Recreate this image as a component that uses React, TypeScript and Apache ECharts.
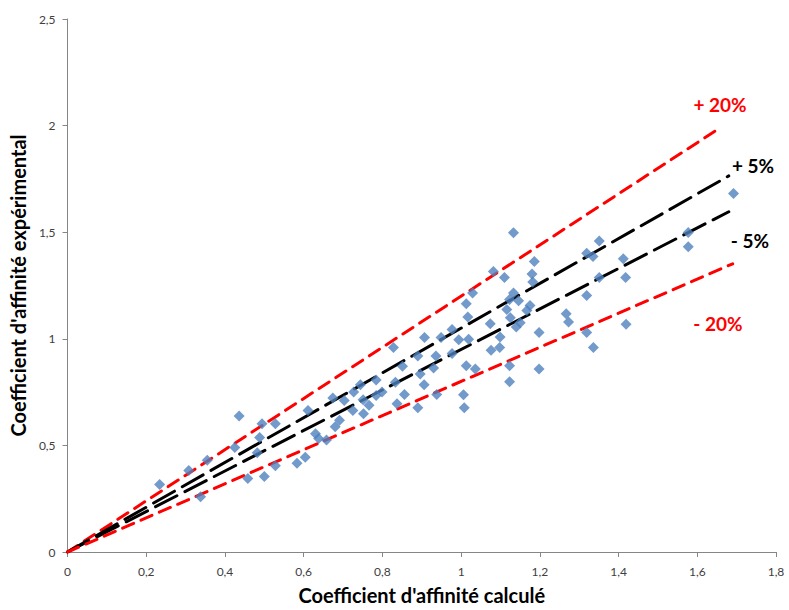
import React, { useEffect, useRef } from "react";
import * as echarts from "echarts";

// Calculated affinity coefficient (x) and experimental affinity coefficient (y)
const calcValues = [
  0.234, 0.308, 0.355, 0.338, 0.436, 0.425, 0.482, 0.488, 0.494, 0.528,
  0.458, 0.5, 0.528, 0.583, 0.604, 0.611, 0.63, 0.638, 0.658, 0.674,
  0.68, 0.691, 0.703, 0.725, 0.727, 0.744, 0.751, 0.752, 0.766, 0.784,
  0.784, 0.799, 0.828, 0.833, 0.837, 0.851, 1.029, 1.013, 1.017, 1.074,
  0.907, 0.949, 0.977, 0.994, 1.019, 1.099, 1.076, 1.098, 0.89, 0.936,
  0.977, 0.93, 0.896, 0.906, 1.013, 1.036, 0.856, 0.89, 0.938, 1.006,
  1.008, 1.133, 1.186, 1.082, 1.11, 1.18, 1.182, 1.133, 1.123, 1.146,
  1.116, 1.175, 1.167, 1.125, 1.15, 1.14, 1.267, 1.273, 1.198, 1.123,
  1.198, 1.123, 1.351, 1.319, 1.335, 1.412, 1.418, 1.351, 1.319, 1.319,
  1.419, 1.336, 1.692, 1.577, 1.577,
];
const expValues = [
  0.317, 0.382, 0.43, 0.259, 0.638, 0.49, 0.466, 0.537, 0.602, 0.602,
  0.345, 0.354, 0.404, 0.416, 0.444, 0.664, 0.555, 0.532, 0.525, 0.722,
  0.587, 0.618, 0.711, 0.664, 0.75, 0.784, 0.714, 0.649, 0.688, 0.807,
  0.734, 0.75, 0.959, 0.796, 0.695, 0.871, 1.215, 1.164, 1.102, 1.071,
  1.006, 1.006, 1.044, 0.995, 0.998, 1.009, 0.946, 0.959, 0.919, 0.919,
  0.931, 0.863, 0.835, 0.785, 0.874, 0.858, 0.739, 0.677, 0.739, 0.737,
  0.677, 1.498, 1.363, 1.316, 1.288, 1.304, 1.266, 1.215, 1.184, 1.179,
  1.137, 1.156, 1.133, 1.099, 1.075, 1.055, 1.117, 1.079, 1.029, 0.874,
  0.858, 0.799, 1.459, 1.401, 1.386, 1.375, 1.288, 1.288, 1.203, 1.029,
  1.068, 0.959, 1.681, 1.499, 1.432,
];

// Reference lines y = slope * x (±20 %, ±5 %)
const refNames = ["+ 20%", "+ 5%", "- 5%", "- 20%"];
const refSlopes = [1.2, 1.05, 0.95, 0.8];
const refEnds = [1.66, 1.68, 1.68, 1.69];

const xTitle = "Coefficient d'affinité calculé";
const yTitle = "Coefficient d'affinité expérimental";

const FONT = "Lato, 'Liberation Sans', sans-serif";
const refColors = ["#FF0000", "#000000", "#000000", "#FF0000"];
const refDashes = [[12, 8], [24, 9], [24, 9], [12, 8]];
const labelPos = [
  [720, 104],
  [753, 165],
  [750, 240],
  [718, 323],
];

const fmt = (v: number) => String(Math.round(v * 10) / 10).replace(".", ",");

export default function App() {
  const ref = useRef<HTMLDivElement>(null);
  useEffect(() => {
    document.body.style.margin = "0";
    if (!ref.current) return;
    const chart = echarts.init(ref.current, undefined, { renderer: "svg" });
    const points = calcValues.map((x, i) => [x, expValues[i]]);
    const lineSeries = refSlopes.map((s, i) => ({
      type: "line",
      name: refNames[i],
      data: [
        [0, 0],
        [refEnds[i], s * refEnds[i]],
      ],
      showSymbol: false,
      symbol: "none",
      silent: true,
      z: 2,
      lineStyle: { color: refColors[i], width: 3, type: refDashes[i], cap: "round" },
    }));
    const axisCommon = {
      type: "value",
      splitLine: { show: false },
      axisLine: { show: true, lineStyle: { color: "#868686", width: 1 } },
      axisTick: { show: true, length: 5, lineStyle: { color: "#868686" } },
      axisLabel: {
        formatter: fmt,
        color: "#404040",
        fontSize: 12,
        fontFamily: FONT,
      },
      nameLocation: "middle",
      nameTextStyle: {
        fontSize: 20,
        fontWeight: "bold",
        color: "#000",
        fontFamily: FONT,
      },
    };
    chart.setOption({
      animation: false,
      grid: { left: 67, right: 13, top: 19, bottom: 54, containLabel: false },
      xAxis: {
        ...axisCommon,
        min: 0,
        max: 1.8,
        interval: 0.2,
        name: xTitle,
        nameGap: 33,
        axisLabel: { ...axisCommon.axisLabel, margin: 13 },
      },
      yAxis: {
        ...axisCommon,
        min: 0,
        max: 2.5,
        interval: 0.5,
        name: yTitle,
        nameGap: 36,
        axisLabel: { ...axisCommon.axisLabel, margin: 12 },
      },
      series: [
        ...lineSeries,
        {
          type: "scatter",
          data: points,
          symbol: "diamond",
          symbolSize: 11,
          z: 5,
          itemStyle: { color: "#4F81BD" },
        },
      ],
      graphic: refNames.map((n, i) => ({
        type: "text",
        x: labelPos[i][0],
        y: labelPos[i][1],
        style: {
          text: n,
          fill: refColors[i],
          font: `bold 19px ${FONT}`,
          align: "center",
          verticalAlign: "middle",
        },
      })),
    });
    return () => chart.dispose();
  }, []);
  return <div ref={ref} style={{ width: 789, height: 610 }} />;
}
